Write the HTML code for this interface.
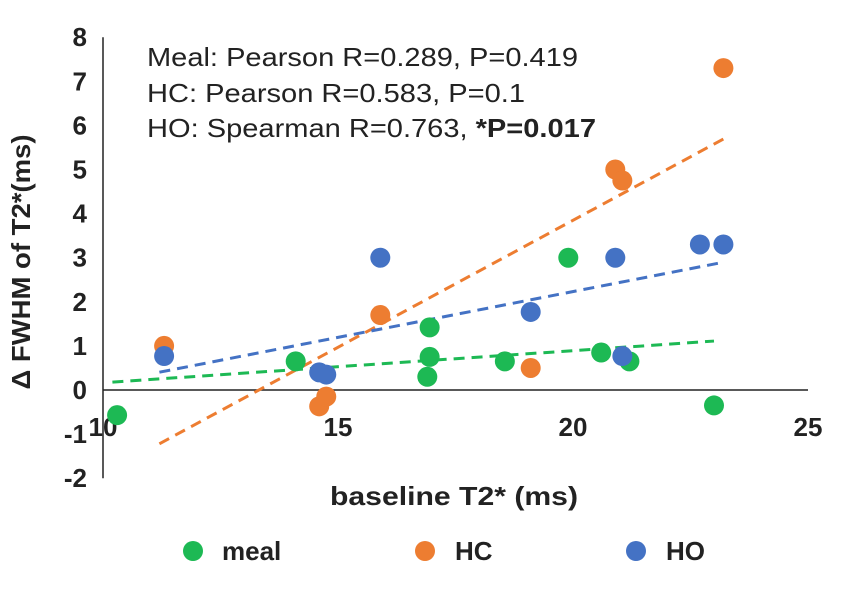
<!DOCTYPE html>
<html><head><meta charset="utf-8"><style>
body{margin:0;background:#fff;}
svg{display:block;font-family:"Liberation Sans",Arial,sans-serif;}
</style></head><body>
<svg id="chart" width="844" height="593">
<g id="axes"></g><g id="lines"></g><g id="pts"></g>
<text x="147" y="66" font-size="26" fill="#222" textLength="431" lengthAdjust="spacingAndGlyphs">Meal: Pearson R=0.289, P=0.419</text>
<text x="147" y="102" font-size="26" fill="#222" textLength="378" lengthAdjust="spacingAndGlyphs">HC: Pearson R=0.583, P=0.1</text>
<text x="147" y="137" font-size="26" fill="#222" textLength="449" lengthAdjust="spacingAndGlyphs">HO: Spearman R=0.763, <tspan font-weight="bold">*P=0.017</tspan></text>
<text x="30" y="262" font-size="26" font-weight="bold" fill="#222" text-anchor="middle" textLength="255" lengthAdjust="spacingAndGlyphs" transform="rotate(-90 30 262)">Δ FWHM of T2*(ms)</text>
<text x="330" y="505" font-size="26" font-weight="bold" fill="#222" textLength="248" lengthAdjust="spacingAndGlyphs">baseline T2* (ms)</text>
<g>
<circle cx="193" cy="551" r="10" fill="#1db954"/>
<text x="222" y="560" font-size="26" font-weight="bold" fill="#222">meal</text>
<circle cx="425" cy="551" r="10" fill="#ed7d31"/>
<text x="455" y="560" font-size="26" font-weight="bold" fill="#222">HC</text>
<circle cx="636" cy="551" r="10" fill="#4472c4"/>
<text x="666" y="560" font-size="26" font-weight="bold" fill="#222">HO</text>
</g>
</svg>
<script>
const yTicks=[8,7,6,5,4,3,2,1,0,-1,-2];
const xTicks=[10,15,20,25];
const mealX=[10.3,14.1,16.9,16.95,16.95,18.55,19.9,20.6,21.2,23.0];
const mealY=[-0.57,0.65,0.3,1.42,0.75,0.65,3.0,0.85,0.65,-0.35];
const hcX=[11.3,14.6,14.75,15.9,19.1,20.9,21.05,23.2];
const hcY=[1.0,-0.37,-0.15,1.7,0.5,5.0,4.75,7.3];
const hoX=[11.3,14.6,14.75,15.9,19.1,20.9,21.05,22.7,23.2];
const hoY=[0.77,0.4,0.35,3.0,1.77,3.0,0.77,3.3,3.3];
const NS="http://www.w3.org/2000/svg";
const sx=v=>103+(v-10)*47, sy=v=>390-v*44.1;
function mk(tag,attrs,parent){const e=document.createElementNS(NS,tag);for(const k in attrs)e.setAttribute(k,attrs[k]);document.getElementById(parent).appendChild(e);return e;}
let e=mk('line',{x1:103,y1:sy(8),x2:103,y2:sy(-2),stroke:'#222','stroke-width':1.5},'axes');


e=mk('line',{x1:103,y1:sy(0),x2:808,y2:sy(0),stroke:'#222','stroke-width':1.5},'axes');


yTicks.forEach(t=>{const el=mk('text',{x:87,y:sy(t)+9,'font-size':26,'font-weight':'bold','text-anchor':'end',fill:'#222'},'axes');el.textContent=t;

});
xTicks.forEach(t=>{const el=mk('text',{x:sx(t),y:436,'font-size':26,'font-weight':'bold','text-anchor':'middle',fill:'#222'},'axes');el.textContent=t;

});
function series(xs,ys,col,name){
 const n=xs.length,mx=xs.reduce((a,b)=>a+b)/n,my=ys.reduce((a,b)=>a+b)/n;
 let sxy=0,sxx=0;for(let i=0;i<n;i++){sxy+=(xs[i]-mx)*(ys[i]-my);sxx+=(xs[i]-mx)**2;}
 const b=sxy/sxx,a=my-b*mx,x0=Math.min(...xs)-0.1,x1=Math.max(...xs);
 const l=mk('line',{x1:sx(x0),y1:sy(a+b*x0),x2:sx(x1),y2:sy(a+b*x1),stroke:col,'stroke-width':3,'stroke-dasharray':'11 7'},'lines');
 
 
 for(let i=0;i<n;i++){const c=mk('circle',{cx:sx(xs[i]),cy:sy(ys[i]),r:10,fill:col},'pts');
 
 }
}
series(mealX,mealY,'#1db954','meal');
series(hcX,hcY,'#ed7d31','hc');
series(hoX,hoY,'#4472c4','ho');
</script>
</body></html>
